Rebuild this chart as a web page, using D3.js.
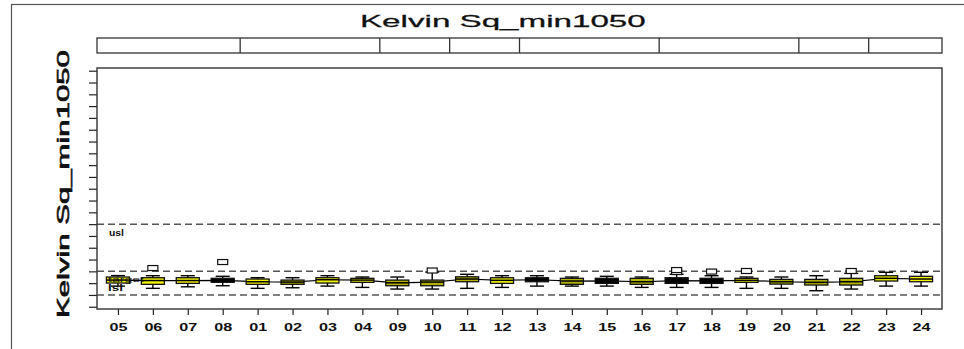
<!DOCTYPE html>
<html>
<head>
<meta charset="utf-8">
<script src="https://cdn.jsdelivr.net/npm/d3@7"></script>
<style>
  html, body { margin: 0; padding: 0; background: #fff; }
  svg { display: block; font-family: "Liberation Sans", Arial, sans-serif; }
</style>
</head>
<body>
<svg id="chart" width="964" height="349"></svg>
<script>
// Lot categories in plotting order
const categories = ["05","06","07","08","01","02","03","04","09","10","11","12",
                    "13","14","15","16","17","18","19","20","21","22","23","24"];

// Five-number summaries per lot
const whiskerLow  = [1.75,1.56,1.69,1.78,1.56,1.61,1.75,1.64,1.50,1.50,1.56,1.64,
                     1.75,1.75,1.75,1.64,1.64,1.64,1.56,1.56,1.36,1.50,1.75,1.75];
const q1          = [2.01,1.90,1.98,2.07,1.90,1.90,2.01,2.07,1.78,1.78,2.12,1.98,
                     2.12,1.90,1.98,1.90,1.98,1.98,2.07,1.92,1.84,1.84,2.18,2.12];
const median      = [2.26,2.22,2.22,2.24,2.12,2.09,2.29,2.26,2.03,2.09,2.35,2.24,
                     2.29,2.18,2.20,2.12,2.22,2.20,2.24,2.12,2.07,2.12,2.41,2.35];
const q3          = [2.52,2.46,2.46,2.41,2.35,2.26,2.46,2.41,2.26,2.26,2.54,2.46,
                     2.46,2.41,2.41,2.41,2.46,2.41,2.41,2.32,2.32,2.41,2.63,2.58];
const whiskerHigh = [2.64,2.63,2.63,2.58,2.46,2.46,2.63,2.52,2.52,2.94,2.75,2.63,
                     2.63,2.52,2.58,2.52,2.75,2.63,2.52,2.52,2.63,2.83,2.92,2.92];
const outliers    = [[],[3.28],[],[3.79],[],[],[],[],[],[3.07],[],[],
                     [],[],[],[],[2.94,3.11],[2.98],[3.03],[],[],[3.03],[],[]];

// Lot status: 0 = normal, 1 = watch, 2 = flagged
const status      = [0,0,0,2,0,1,0,0,1,1,1,0,2,1,2,1,2,2,0,1,1,1,0,0];

// Number of lots in each strip panel
const stripSizes  = [4,4,2,2,4,4,2,2];

// Y tick positions and specification lines
const yTicks = d3.range(0, 21);
const specLines = [7, 3, 1];

const svg = d3.select("#chart");

const plot = { left: 97, right: 942, top: 68, bottom: 309 };

const x = d3.scaleLinear().domain([0.4, 24.6]).range([plot.left, plot.right]);
const y = d3.scaleLinear().domain([-0.19, 20.23]).range([plot.bottom, plot.top]);
const fill = d3.scaleOrdinal().domain([0, 1, 2]).range(["#f4f400", "#b2b200", "#000000"]);

const step = x(2) - x(1);
const boxHalf = step * 0.33;
const capHalf = 7;

// Widen a text element horizontally (in its own frame) to a given length
function stretch(sel, width, base) {
  sel.each(function () {
    const w = this.getComputedTextLength();
    const s = w > 0 ? width / w : 1;
    d3.select(this).attr("transform", `${base} scale(${s},1)`);
  });
}

// Outer frame
svg.append("rect")
  .attr("x", 11.5).attr("y", 4.5).attr("width", 1000).attr("height", 400)
  .attr("fill", "none").attr("stroke", "#555").attr("stroke-width", 1.2);

// Title
svg.append("text")
  .attr("font-size", 16.5).attr("fill", "#111")
  .attr("stroke", "#111").attr("stroke-width", 0.25)
  .text("Kelvin  Sq_min1050")
  .call(stretch, 286, "translate(360,26.5)");

// Strip panels
const stripTop = 38, stripBottom = 53;
svg.append("rect")
  .attr("x", plot.left).attr("y", stripTop)
  .attr("width", plot.right - plot.left).attr("height", stripBottom - stripTop)
  .attr("fill", "#fff").attr("stroke", "#333").attr("stroke-width", 1.3);
const stripBounds = d3.cumsum(stripSizes).slice(0, -1);
svg.append("g").selectAll("line").data(stripBounds).join("line")
  .attr("x1", d => x(d + 0.5)).attr("x2", d => x(d + 0.5))
  .attr("y1", stripTop).attr("y2", stripBottom)
  .attr("stroke", "#333").attr("stroke-width", 1.3);

// Y axis label
svg.append("text")
  .attr("font-size", 16.5).attr("fill", "#111")
  .attr("stroke", "#111").attr("stroke-width", 0.6)
  .text("Kelvin  Sq_min1050")
  .call(stretch, 268, "translate(69,318) rotate(-90)");

// Axes
const yAxis = svg.append("g")
  .attr("transform", `translate(${plot.left},0)`)
  .call(d3.axisLeft(y).tickValues(yTicks).tickFormat("").tickSize(8).tickSizeOuter(0));
yAxis.select(".domain").remove();
yAxis.selectAll("line").attr("stroke", "#222").attr("stroke-width", 1.2);

const xAxis = svg.append("g")
  .attr("transform", `translate(0,${plot.bottom})`)
  .call(d3.axisBottom(x).tickValues(d3.range(1, 25))
    .tickFormat(i => categories[i - 1]).tickSize(6).tickSizeOuter(0));
xAxis.select(".domain").remove();
xAxis.selectAll("line").attr("stroke", "#222").attr("stroke-width", 1.2);
xAxis.selectAll("text")
  .attr("y", 0).attr("dy", 0)
  .attr("font-size", 10).attr("font-weight", "bold").attr("fill", "#111")
  .attr("font-family", "'Liberation Sans', Arial, sans-serif")
  .call(stretch, 18, "translate(0,21.5)");

// Specification lines
svg.append("g").selectAll("line").data(specLines).join("line")
  .attr("x1", plot.left).attr("x2", plot.right)
  .attr("y1", d => y(d)).attr("y2", d => y(d))
  .attr("stroke", "#555").attr("stroke-width", 1.5)
  .attr("stroke-dasharray", "7,4");

// Median connector
svg.append("path")
  .datum(median)
  .attr("d", d3.line().x((d, i) => x(i + 1)).y(d => y(d)))
  .attr("fill", "none").attr("stroke", "#000").attr("stroke-width", 1.2);

// Boxplots
const boxes = svg.append("g").selectAll("g").data(categories).join("g");

boxes.append("line")
  .attr("x1", (d, i) => x(i + 1)).attr("x2", (d, i) => x(i + 1))
  .attr("y1", (d, i) => y(whiskerLow[i])).attr("y2", (d, i) => y(whiskerHigh[i]))
  .attr("stroke", "#000").attr("stroke-width", 1.4);
boxes.append("line")
  .attr("x1", (d, i) => x(i + 1) - capHalf).attr("x2", (d, i) => x(i + 1) + capHalf)
  .attr("y1", (d, i) => y(whiskerLow[i])).attr("y2", (d, i) => y(whiskerLow[i]))
  .attr("stroke", "#000").attr("stroke-width", 1.4);
boxes.append("line")
  .attr("x1", (d, i) => x(i + 1) - capHalf).attr("x2", (d, i) => x(i + 1) + capHalf)
  .attr("y1", (d, i) => y(whiskerHigh[i])).attr("y2", (d, i) => y(whiskerHigh[i]))
  .attr("stroke", "#000").attr("stroke-width", 1.4);
boxes.append("rect")
  .attr("x", (d, i) => x(i + 1) - boxHalf).attr("width", boxHalf * 2)
  .attr("y", (d, i) => y(q3[i])).attr("height", (d, i) => y(q1[i]) - y(q3[i]))
  .attr("fill", (d, i) => fill(status[i]))
  .attr("stroke", "#111").attr("stroke-width", 1.3);
boxes.append("line")
  .attr("x1", (d, i) => x(i + 1) - boxHalf).attr("x2", (d, i) => x(i + 1) + boxHalf)
  .attr("y1", (d, i) => y(median[i])).attr("y2", (d, i) => y(median[i]))
  .attr("stroke", "#000").attr("stroke-width", 1.5);
boxes.selectAll("rect.out")
  .data((d, i) => outliers[i].map(v => ({ i, v })))
  .join("rect").attr("class", "out")
  .attr("x", o => x(o.i + 1) - 5).attr("width", 10)
  .attr("y", o => y(o.v) - 2.5).attr("height", 5)
  .attr("fill", "#fff").attr("stroke", "#111").attr("stroke-width", 1.2);

// Spec line annotations
const notes = svg.append("g").attr("font-size", 9).attr("font-weight", "bold").attr("fill", "#111");
notes.append("text").text("usl").call(stretch, 15, "translate(109,235.5)");
notes.append("text").attr("font-size", 7).attr("font-weight", "normal")
  .text("target").call(stretch, 36, "translate(108,281.5)");
notes.append("text").text("lsl").call(stretch, 15, "translate(108,290.5)");

// Plot frame
svg.append("rect")
  .attr("x", plot.left).attr("y", plot.top)
  .attr("width", plot.right - plot.left).attr("height", plot.bottom - plot.top)
  .attr("fill", "none").attr("stroke", "#333").attr("stroke-width", 1.4);
</script>
</body>
</html>
